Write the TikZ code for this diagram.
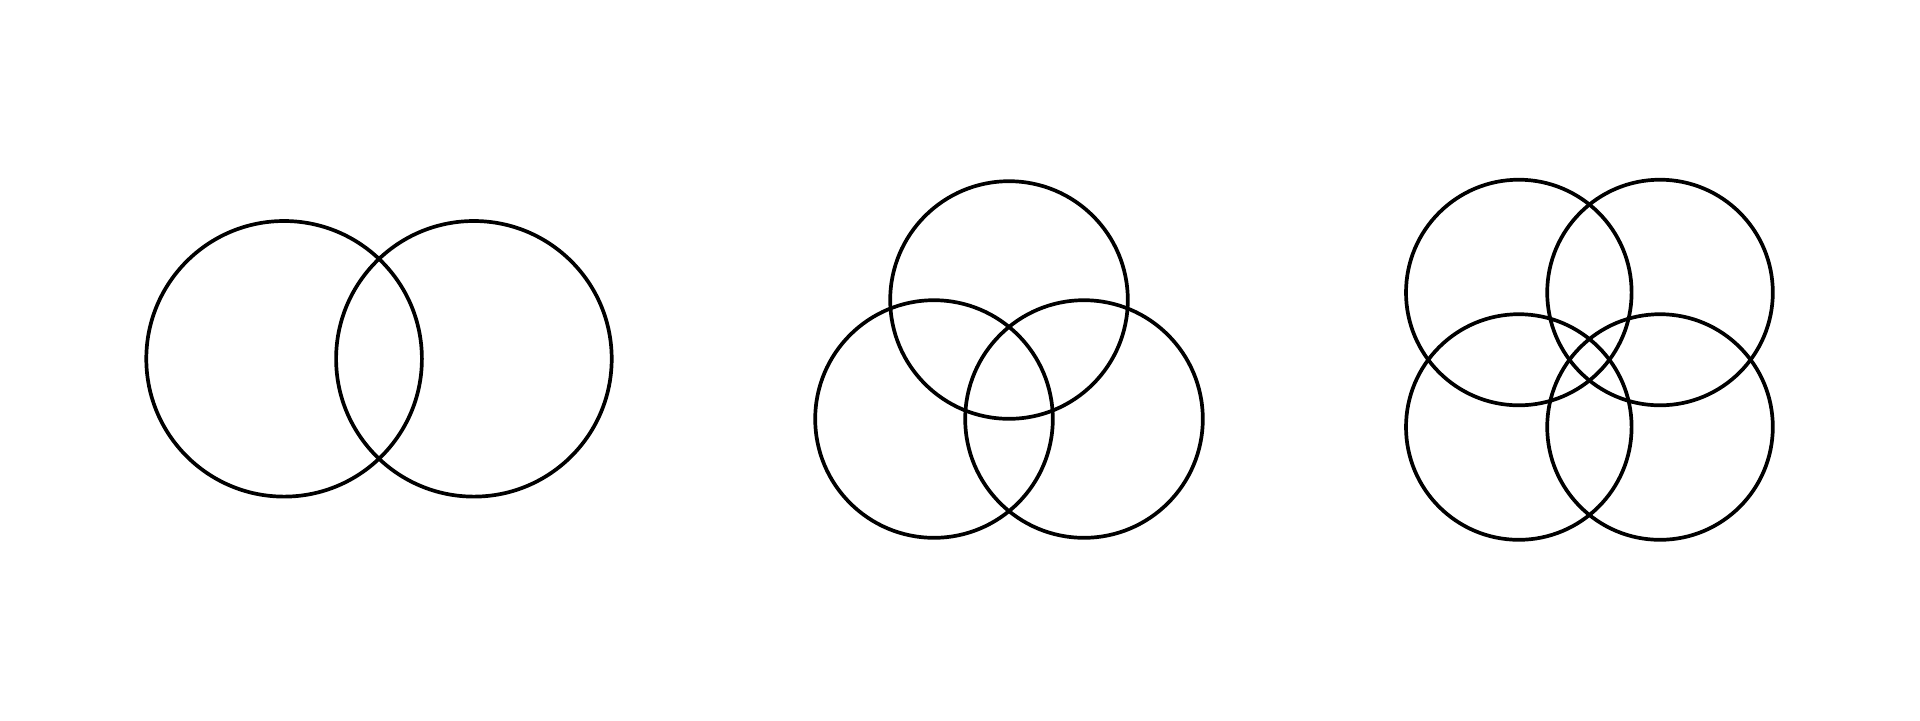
\documentclass[tikz,border=0pt]{standalone}
\begin{document}
\begin{tikzpicture}[x=0.5pt,y=-0.5pt,
  ring/.style={draw=black,line width=1.85pt}]
\useasboundingbox (0,0) rectangle (1920,720);
% two circles
\draw[ring] (284.1,358.8) circle[radius=137.8];
\draw[ring] (473.9,358.8) circle[radius=137.8];
% three circles
\draw[ring] (1009,300) circle[radius=118.8];
\draw[ring] (934,419) circle[radius=118.8];
\draw[ring] (1084,419) circle[radius=118.8];
% four circles
\draw[ring] (1518.8,292.5) circle[radius=112.8];
\draw[ring] (1660,292.5) circle[radius=112.8];
\draw[ring] (1518.8,427) circle[radius=112.8];
\draw[ring] (1660,427) circle[radius=112.8];
\end{tikzpicture}
\end{document}
